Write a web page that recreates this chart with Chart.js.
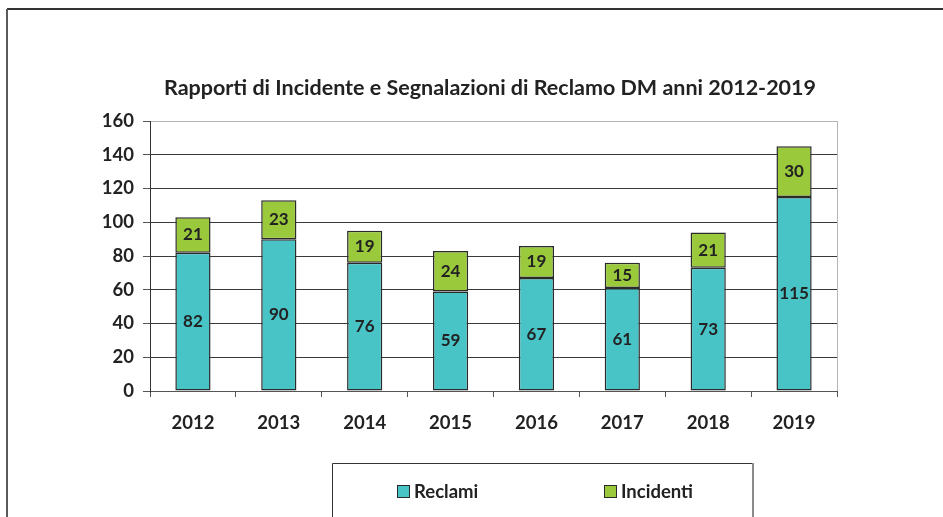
<!DOCTYPE html>
<html>
<head>
<meta charset="utf-8">
<script src="https://cdn.jsdelivr.net/npm/chart.js@4"></script>
<style>
  html, body { margin: 0; padding: 0; background: #fff; }
  canvas { display: block; }
</style>
</head>
<body>
<canvas id="chart" width="943" height="517"></canvas>
<script>
// Data
const years = ['2012', '2013', '2014', '2015', '2016', '2017', '2018', '2019'];
const reclami = [82, 90, 76, 59, 67, 61, 73, 115];
const incidenti = [21, 23, 19, 24, 19, 15, 21, 30];
const chartTitle = 'Rapporti di Incidente e Segnalazioni di Reclamo DM anni 2012-2019';

const FONT = 'Lato, "Open Sans", sans-serif';
const TEAL = '#48c3c6';
const GREEN = '#9bc93c';
const EDGE = '#2a2a2a';

// frame, title, legend box and value labels
const decorPlugin = {
    id: 'decor',
    beforeDraw(chart) {
        const ctx = chart.ctx;
        ctx.save();
        ctx.fillStyle = '#fff';
        ctx.fillRect(0, 0, chart.width, chart.height);
        // outer frame (runs off right/bottom)
        ctx.strokeStyle = '#333';
        ctx.lineWidth = 2;
        ctx.beginPath();
        ctx.moveTo(7, 9); ctx.lineTo(chart.width, 9);
        ctx.stroke();
        ctx.strokeStyle = '#5a5a5a';
        ctx.beginPath();
        ctx.moveTo(7, 9); ctx.lineTo(7, chart.height);
        ctx.stroke();
        // plot area right border
        const a = chart.chartArea;
        ctx.strokeStyle = '#b5b5b5';
        ctx.lineWidth = 1;
        ctx.beginPath();
        ctx.moveTo(a.right + 0.5, a.top); ctx.lineTo(a.right + 0.5, a.bottom);
        ctx.stroke();
        ctx.restore();
    },
    afterDraw(chart) {
        const ctx = chart.ctx;
        ctx.save();
        // title
        ctx.fillStyle = '#222';
        ctx.font = 'bold 21.5px ' + FONT;
        ctx.textAlign = 'center';
        ctx.textBaseline = 'middle';
        ctx.fillText(chartTitle, 490, 88);

        // legend box
        ctx.strokeStyle = '#333';
        ctx.lineWidth = 1;
        ctx.beginPath();
        ctx.moveTo(332.5, chart.height); ctx.lineTo(332.5, 463.5); ctx.lineTo(752, 463.5);
        ctx.stroke();
        ctx.strokeStyle = '#8a8a8a';
        ctx.lineWidth = 2;
        ctx.beginPath();
        ctx.moveTo(753, 463); ctx.lineTo(753, chart.height);
        ctx.stroke();

        // legend items
        const items = [{ x: 397, ds: chart.data.datasets[0] }, { x: 604, ds: chart.data.datasets[1] }];
        ctx.font = 'bold 18.5px ' + FONT;
        ctx.textAlign = 'left';
        items.forEach(it => {
            ctx.fillStyle = it.ds.backgroundColor;
            ctx.fillRect(it.x, 485, 12, 12);
            ctx.strokeStyle = EDGE;
            ctx.lineWidth = 1;
            ctx.strokeRect(it.x + 0.5, 485.5, 12, 12);
            ctx.fillStyle = '#222';
            ctx.fillText(it.ds.label, it.x + 17, 492);
        });
        ctx.restore();
    },
    afterDatasetsDraw(chart) {
        const ctx = chart.ctx;
        ctx.save();
        ctx.font = 'bold 17px ' + FONT;
        ctx.fillStyle = '#222';
        ctx.textAlign = 'center';
        ctx.textBaseline = 'middle';
        chart.data.datasets.forEach((ds, i) => {
            chart.getDatasetMeta(i).data.forEach((bar, j) => {
                const p = bar.getProps(['x', 'y', 'base'], true);
                ctx.fillText(String(ds.data[j]), p.x, (p.y + p.base) / 2);
            });
        });
        ctx.restore();
    }
};

new Chart(document.getElementById('chart'), {
    type: 'bar',
    data: {
        labels: years,
        datasets: [
            {
                label: 'Reclami',
                data: reclami,
                backgroundColor: TEAL,
                borderColor: EDGE,
                borderWidth: 1.5,
                borderSkipped: false
            },
            {
                label: 'Incidenti',
                data: incidenti,
                backgroundColor: GREEN,
                borderColor: EDGE,
                borderWidth: 1.5,
                borderSkipped: false
            }
        ]
    },
    options: {
        responsive: false,
        animation: false,
        layout: { padding: { left: 0, right: 106, top: 121, bottom: 76 } },
        datasets: { bar: { categoryPercentage: 1, barPercentage: 0.41 } },
        plugins: {
            legend: { display: false },
            title: { display: false },
            tooltip: { enabled: false }
        },
        scales: {
            x: {
                stacked: true,
                afterFit(scale) { scale.height = 50; },
                grid: {
                    drawOnChartArea: false,
                    drawTicks: true,
                    tickLength: 6,
                    tickColor: '#555'
                },
                border: { display: true, color: '#555', width: 1 },
                ticks: {
                    color: '#222',
                    padding: 15,
                    font: { family: FONT, size: 18.5, weight: 'bold' }
                }
            },
            y: {
                stacked: true,
                min: 0,
                max: 160,
                afterFit(scale) { scale.width = 150; },
                grid: {
                    color: c => (c.tick && c.tick.value === 160) ? '#b5b5b5' : '#3a3a3a',
                    tickColor: '#555',
                    tickLength: 7
                },
                border: { display: true, color: '#333', width: 1 },
                ticks: {
                    stepSize: 20,
                    color: '#222',
                    padding: 9,
                    font: { family: FONT, size: 18.5, weight: 'bold' }
                }
            }
        }
    },
    plugins: [decorPlugin]
});
</script>
</body>
</html>
